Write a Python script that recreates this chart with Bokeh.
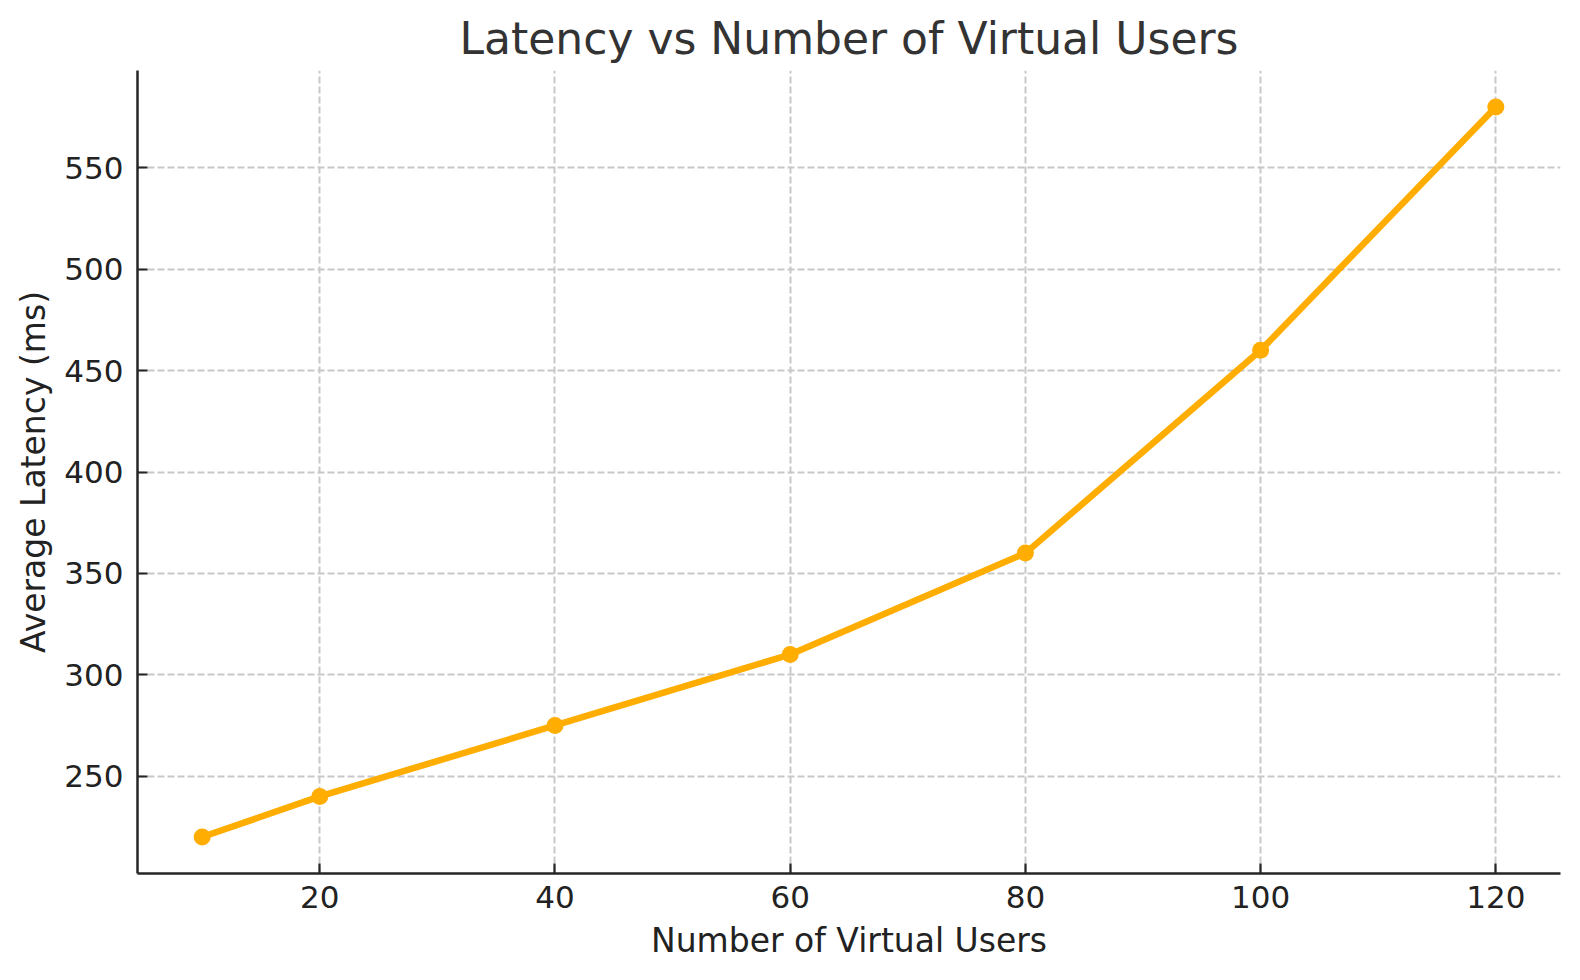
from bokeh.plotting import figure
from bokeh.models import Range1d, FixedTicker
from bokeh.embed import file_html
from bokeh.resources import INLINE

users = [10, 20, 40, 60, 80, 100, 120]
latency = [220, 240, 275, 310, 360, 460, 580]
x_ticks = [20, 40, 60, 80, 100, 120]
y_ticks = [250, 300, 350, 400, 450, 500, 550]

FONT = "DejaVu Sans"
LINE_COLOR = "#FFAD00"

p = figure(width=1572, height=972, output_backend="svg", toolbar_location=None,
           x_range=Range1d(4.5, 125.5), y_range=Range1d(202, 598),
           min_border_left=137, min_border_right=12, min_border_top=70, min_border_bottom=99,
           title="Latency vs Number of Virtual Users")

p.title.text_font = FONT
p.title.text_font_size = "44px"
p.title.text_font_style = "normal"
p.title.text_color = "#333333"
p.title.align = "center"
p.title.standoff = 14

p.outline_line_color = None
p.background_fill_color = "white"
p.border_fill_color = "white"

for ax in (p.xaxis[0], p.yaxis[0]):
    ax.axis_line_color = "#262626"
    ax.axis_line_width = 2.5
    ax.major_tick_line_color = "#262626"
    ax.major_tick_line_width = 2.2
    ax.major_tick_in = 10
    ax.major_tick_out = 0
    ax.minor_tick_line_color = None
    ax.major_label_text_font = FONT
    ax.major_label_text_font_size = "31px"
    ax.major_label_text_color = "#222222"
    ax.axis_label_text_font = FONT
    ax.axis_label_text_font_size = "33px"
    ax.axis_label_text_font_style = "normal"
    ax.axis_label_text_color = "#222222"

p.xaxis[0].major_label_standoff = 12
p.yaxis[0].major_label_standoff = 14
p.xaxis[0].ticker = FixedTicker(ticks=x_ticks)
p.yaxis[0].ticker = FixedTicker(ticks=y_ticks)
p.xaxis[0].axis_label = "Number of Virtual Users"
p.yaxis[0].axis_label = "Average Latency (ms)"
p.xaxis[0].axis_label_standoff = 10
p.yaxis[0].axis_label_standoff = 8

for g in (p.xgrid[0], p.ygrid[0]):
    g.grid_line_color = "#c8c8c8"
    g.grid_line_width = 2
    g.grid_line_dash = "7 3"

p.line(users, latency, line_color=LINE_COLOR, line_width=6.5)
p.scatter(users, latency, size=17, fill_color=LINE_COLOR, line_color=None)

open("out.html", "w").write(file_html(p, INLINE))
